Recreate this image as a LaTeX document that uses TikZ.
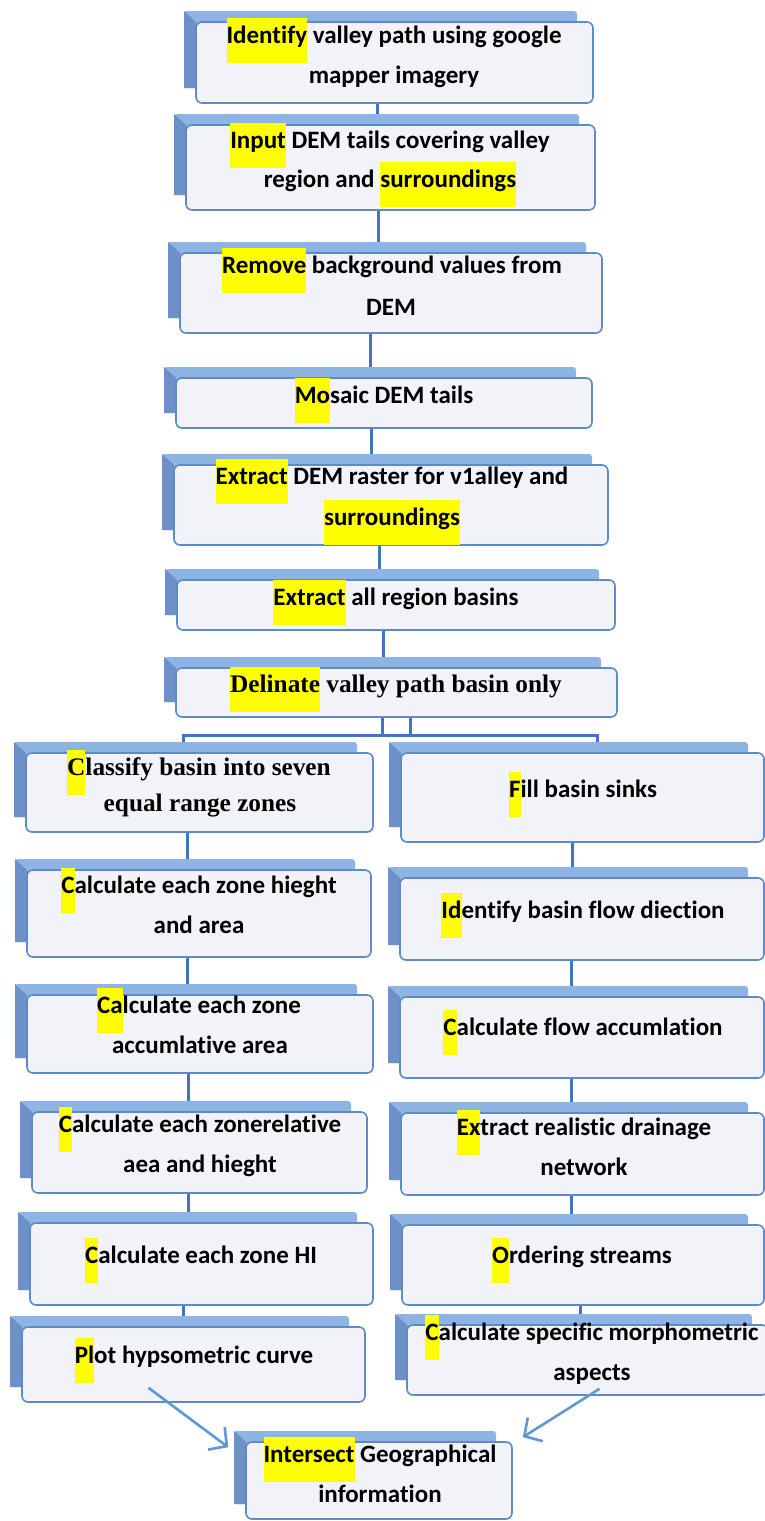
\documentclass[tikz,border=0pt]{standalone}
\usepackage{fontspec}
\setmainfont{Carlito}[Ligatures=NoCommon]
\newfontfamily\timesbf{Liberation Serif}[Ligatures=NoCommon]
\usetikzlibrary{arrows.meta,calc,fit}
\definecolor{hlyellow}{RGB}{255,255,0}
\definecolor{backlight}{RGB}{142,180,227}
\definecolor{backdark}{RGB}{108,144,199}
\definecolor{frontfill}{RGB}{242,243,249}
\definecolor{frontline}{RGB}{95,138,200}
\definecolor{connblue}{RGB}{68,114,196}
\definecolor{arrblue}{RGB}{96,152,210}
\newcommand\hl[1]{\setbox0\hbox{#1}\rlap{\smash{\color{hlyellow}\rule[-20pt]{\wd0}{45pt}}}\box0\relax}
\tikzset{
  frontbox/.style={draw=frontline, line width=1.6pt, fill=frontfill, rounded corners=6pt, inner sep=0pt},
  backbox/.style={inner sep=0pt},
  txt/.style={inner sep=0pt, anchor=base, font=\bfseries\fontsize{25}{25}\selectfont},
  stxt/.style={inner sep=0pt, anchor=base, font=\timesbf\bfseries\fontsize{25.3}{25.3}\selectfont},
  conn/.style={draw=connblue, line width=3pt},
  arr/.style={draw=arrblue, line width=2.6pt, -{Straight Barb[length=13pt,width=28pt]}}
}
% name, x1, y1, x2, y2
\newcommand\flowbox[5]{%
  \fill[backlight, rounded corners=3pt] (#2-12,#3-11) rectangle (#4-16,#5-15);
  \fill[backdark] (#2-12,#3-11) -- (#2,#3) -- (#2,#5-15) -- (#2-12,#5-15) -- cycle;
  \node[backbox, fit={(#2-12,#3-11) (#4-16,#5-15)}] (#1b) {};
  \node[frontbox, fit={(#2,#3) (#4,#5)}] (#1) {};
}
\begin{document}
\begin{tikzpicture}[x=1pt,y=-1pt]
\fill[white] (0,0) rectangle (765,1521);
\useasboundingbox (0,0) rectangle (765,1521);

\flowbox{b1}{196}{22}{593}{103}
\flowbox{b2}{186}{125}{595}{210}
\flowbox{b3}{180}{253}{602}{333}
\flowbox{b4}{176}{378}{592}{428}
\flowbox{b5}{174}{465}{608}{545}
\flowbox{b6}{177}{580}{615}{630}
\flowbox{b7}{176}{668}{617}{717}
\flowbox{l1}{26}{753}{373}{832}
\flowbox{l2}{27}{870}{371}{957}
\flowbox{l3}{27}{995}{373}{1073}
\flowbox{l4}{32}{1112}{367}{1193}
\flowbox{l5}{30}{1223}{373}{1305}
\flowbox{l6}{22}{1327}{365}{1402}
\flowbox{r1}{401}{753}{764}{842}
\flowbox{r2}{400}{878}{764}{960}
\flowbox{r3}{400}{997}{764}{1078}
\flowbox{r4}{401}{1113}{764}{1195}
\flowbox{r5}{402}{1225}{764}{1305}
\flowbox{r6}{407}{1325}{768}{1395}
\flowbox{fin}{246}{1442}{512}{1519}

% connectors
\draw[conn] (b1.south -| 377,0) -- (b2b.north -| 377,0);
\draw[conn] (b2.south -| 378,0) -- (b3b.north -| 378,0);
\draw[conn] (b3.south -| 370,0) -- (b4b.north -| 370,0);
\draw[conn] (b4.south -| 371,0) -- (b5b.north -| 371,0);
\draw[conn] (b5.south -| 379,0) -- (b6b.north -| 379,0);
\draw[conn] (b6.south -| 383,0) -- (b7b.north -| 383,0);
\draw[conn] (b7.south -| 410,0) -- (410,735) -| (l1b.north -| 183,0);
\draw[conn] (b7.south -| 382,0) -- (382,735) -| (r1b.north -| 597,0);
\draw[conn] (l1.south -| 187,0) -- (l2b.north -| 187,0);
\draw[conn] (l2.south -| 187,0) -- (l3b.north -| 187,0);
\draw[conn] (l3.south -| 188,0) -- (l4b.north -| 188,0);
\draw[conn] (l4.south -| 188,0) -- (l5b.north -| 188,0);
\draw[conn] (l5.south -| 183,0) -- (l6b.north -| 183,0);
\draw[conn] (r1.south -| 572,0) -- (r2b.north -| 572,0);
\draw[conn] (r2.south -| 571,0) -- (r3b.north -| 571,0);
\draw[conn] (r3.south -| 571,0) -- (r4b.north -| 571,0);
\draw[conn] (r4.south -| 571,0) -- (r5b.north -| 571,0);
\draw[conn] (r5.south -| 580,0) -- (r6b.north -| 580,0);

% texts
\node[txt] (t1a) at (394,43) {\hl{Identify} valley path using google};
\node[txt] (t1b) at (394,83) {mapper imagery};
\node[txt] (t2a) at (390,148) {\hl{Input} DEM tails covering valley};
\node[txt] (t2b) at (390,187) {region and \hl{surroundings}};
\node[txt] (t3a) at (392,273) {\hl{Remove} background values from};
\node[txt] (t3b) at (391,315) {DEM};
\node[txt] (t4) at (384,403) {\hl{Mo}saic DEM tails};
\node[txt] (t5a) at (392,484) {\hl{Extract} DEM raster for v1alley and};
\node[txt] (t5b) at (392,525) {\hl{surroundings}};
\node[txt] (t6) at (396,605) {\hl{Extract} all region basins};
\node[stxt] (t7) at (396,692) {\hl{Delinate} valley path basin only};
\node[stxt] (tl1a) at (199,775) {\hl{C}lassify basin into seven};
\node[stxt] (tl1b) at (200,811) {equal range zones};
\node[txt] (tl2a) at (199,893) {\hl{C}alculate each zone hieght};
\node[txt] (tl2b) at (199,933) {and area};
\node[txt] (tl3a) at (199,1013) {\hl{Ca}lculate each zone};
\node[txt] (tl3b) at (200,1053) {accumlative area};
\node[txt] (tl4a) at (200,1132) {\hl{C}alculate each zonerelative};
\node[txt] (tl4b) at (200,1172) {aea and hieght};
\node[txt] (tl5) at (201,1263) {\hl{C}alculate each zone HI};
\node[txt] (tl6) at (194,1363) {\hl{Pl}ot hypsometric curve};
\node[txt] (tr1) at (583,797) {\hl{F}ill basin sinks};
\node[txt] (tr2) at (583,918) {\hl{Id}entify basin flow diection};
\node[txt] (tr3) at (583,1035) {\hl{C}alculate flow accumlation};
\node[txt] (tr4a) at (584,1135) {\hl{Ex}tract realistic drainage};
\node[txt] (tr4b) at (584,1175) {network};
\node[txt] (tr5) at (582,1263) {\hl{O}rdering streams};
\node[txt] (tr6a) at (592,1340) {\hl{C}alculate specific morphometric};
\node[txt] (tr6b) at (592,1380) {aspects};
\node[txt] (tfa) at (380,1462) {\hl{Intersect} Geographical};
\node[txt] (tfb) at (380,1502) {information};

% arrows
\draw[arr] ($(l6.south)+(-45,-15)$) -- ($(fin.north west)+(-17,6)$);
\draw[arr] ($(r6.south)+(12,-7)$) -- ($(fin.north east)+(10,-4)$);
\end{tikzpicture}
\end{document}
